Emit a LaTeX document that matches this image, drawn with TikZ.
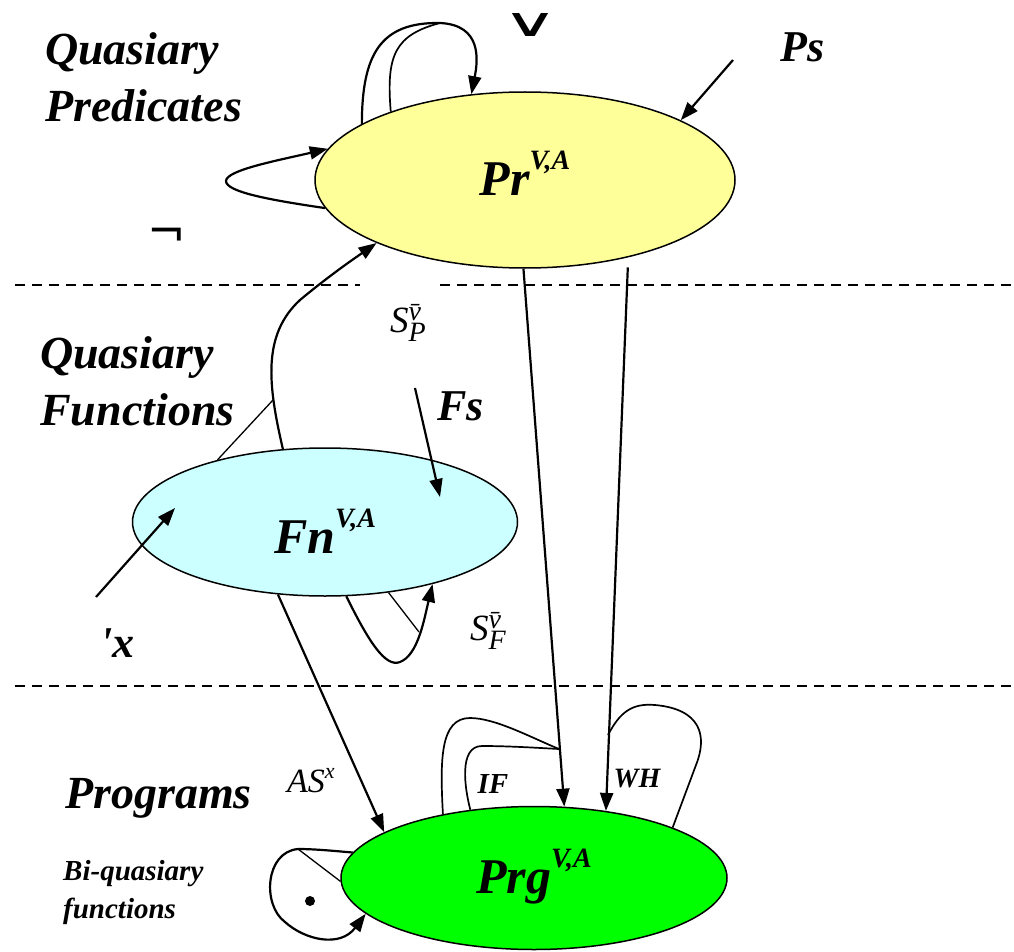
\documentclass[tikz,border=0pt]{standalone}
\usepackage{amsmath}
\usepackage{graphicx}
\usepackage{fontspec}
\setmainfont{Liberation Serif}
\newfontfamily\symbfont{DejaVu Sans}
\usetikzlibrary{arrows.meta,shapes.geometric}
\definecolor{predyellow}{HTML}{FFFF99}
\definecolor{funcyan}{HTML}{CCFFFF}
\definecolor{proggreen}{HTML}{00FF00}
\newcommand{\vaidx}[1]{\raisebox{26pt}{\fontsize{28}{28}\selectfont #1}}
\newcommand{\substname}[1]{\textit{S}\rlap{\raisebox{12pt}{\fontsize{28}{28}\selectfont\itshape\=v}}\raisebox{-9pt}{\fontsize{28}{28}\selectfont\itshape #1}}
\begin{document}
\begin{tikzpicture}[x=1pt, y=-1pt,
            dombox/.style = {ellipse, draw, line width=1.5pt, inner sep=0pt},
            bigtxt/.style = {font=\fontsize{50}{50}\selectfont\bfseries\itshape, inner sep=0pt},
            layertxt/.style = {font=\fontsize{46}{57}\selectfont\bfseries\itshape, align=left, inner sep=0pt, anchor=base west},
            notetxt/.style = {font=\fontsize{29}{38}\selectfont\bfseries\itshape, align=left, inner sep=0pt, anchor=base west},
            optxt/.style = {font=\fontsize{29}{29}\selectfont\bfseries\itshape, inner sep=0pt},
            substxt/.style = {font=\fontsize{37}{37}\selectfont, inner sep=0pt, anchor=base west},
            arrline/.style = {line width=2.2pt, -{Triangle[length=18pt,width=13pt]}},
            loopline/.style = {line width=1.7pt},
            thinline/.style = {line width=1.3pt},
            levelsep/.style = {line width=1.4pt, dash pattern=on 10pt off 7pt}
        ]
            \useasboundingbox (0,0) rectangle (1014,952);
            \draw[levelsep] (15,285) -- (360,285);
            \draw[levelsep] (440,285) -- (1014,285);
            \draw[levelsep] (15,686) -- (1014,686);

            \node[dombox, fill=predyellow, minimum width=420pt, minimum height=176pt] (pr) at (525,180) {};
            \node[dombox, fill=funcyan, minimum width=385pt, minimum height=148pt] (fn) at (325,522) {};
            \node[dombox, fill=proggreen, minimum width=386pt, minimum height=143pt] (prg) at (534,878) {};
            \node[bigtxt] (prname) at ([yshift=7pt]pr.center) {Pr\vaidx{V,A}};
            \node[bigtxt] (fnname) at ([yshift=-9pt]fn.center) {Fn\vaidx{V,A}};
            \node[bigtxt] (prgname) at ([yshift=1pt]prg.center) {Prg\vaidx{V,A}};

            \node[layertxt] (qpred) at (45,122) {Quasiary\\Predicates};
            \node[layertxt] (qfunc) at (40,425) {Quasiary\\Functions};
            \node[layertxt] (progs) at (65,808) {Programs};
            \node[notetxt] (biquas) at (63,918) {Bi-quasiary\\functions};

            \node[font=\symbfont\fontsize{70}{70}\selectfont, inner sep=0pt] (orsym) at (530,25) {\resizebox{56pt}{23pt}{∨}};
            \node[font=\symbfont\fontsize{46}{46}\selectfont, inner sep=0pt] (negsym) at (167,238) {¬};
            \node[layertxt, font=\fontsize{44}{44}\selectfont\bfseries\itshape] (ps) at (780,62) {Ps};
            \node[layertxt, font=\fontsize{44}{44}\selectfont\bfseries\itshape] (fs) at (437,420) {Fs};
            \node[layertxt, font=\fontsize{44}{44}\selectfont\bfseries\itshape] (xname) at (100,657) {\textquotesingle x};
            \node[substxt] (spname) at (390,332) {\substname{P}};
            \node[substxt] (sfname) at (470,640) {\substname{F}};
            \node[substxt, font=\fontsize{34}{34}\selectfont] (asname) at (287,792) {\textit{AS}\raisebox{14pt}{\fontsize{22}{22}\selectfont\itshape x}};
            \node[optxt] (ifname) at (493,784) {IF};
            \node[optxt, font=\fontsize{28}{28}\selectfont\bfseries\itshape] (whname) at (637,779) {WH};

            \coordinate (orjoin) at (440,23);
            \draw[arrline] (pr.161) .. controls (362,55) and (380,22) .. (orjoin) .. controls (482,25) and (478,60) .. (pr.122);
            \draw[loopline] (pr.153) .. controls (386,55) and (395,35) .. (orjoin);
            \draw[arrline] (pr.188) .. controls (270,200) and (226,192) .. (226,181) .. controls (226,170) and (280,160) .. (pr.171);
            \coordinate (psfrom) at (733,60);
            \draw[arrline] (psfrom) -- (pr.21);

            \coordinate (spjoin) at (273,400);
            \draw[arrline] (fn.120) .. controls (268,385) and (262,335) .. (300,300) .. controls (330,275) and (355,258) .. (pr.203);
            \draw[thinline] (spjoin) -- (fn.150);
            \coordinate (fsfrom) at (415,388);
            \coordinate (fsto) at (440,497);
            \draw[arrline] (fsfrom) -- (fsto);
            \coordinate (xfrom) at (96,597);
            \coordinate (xto) at (175,508);
            \draw[arrline] (xfrom) -- (xto);
            \coordinate (sfjoin) at (419,632);
            \draw[arrline] (fn.-74) .. controls (368,640) and (385,668) .. (400,662) .. controls (418,655) and (424,620) .. (fn.-30);
            \draw[thinline] (fn.-48) -- (sfjoin);

            \draw[arrline] (fn.-123) -- (prg.163);
            \draw[arrline] (pr.-91) -- (prg.67);
            \draw[arrline] ([yshift=-10pt]pr.-37) -- (prg.43);

            \coordinate (ifjoin) at (559,749);
            \coordinate (whjoin) at (608,735);
            \draw[loopline] (prg.145) .. controls (440,760) and (440,718) .. (470,718) .. controls (495,718) and (530,737) .. (ifjoin);
            \draw[loopline] (prg.133) .. controls (465,790) and (458,746) .. (482,746) .. controls (510,746) and (540,748) .. (ifjoin);
            \draw[loopline] (whjoin) .. controls (620,712) and (632,703) .. (655,705) .. controls (700,709) and (708,735) .. (696,765) -- (prg.20);

            \coordinate (pljoin) at (298,849);
            \draw[arrline] (prg.172) .. controls (335,851) and (315,849) .. (pljoin) .. controls (265,852) and (262,905) .. (285,922) .. controls (305,940) and (340,948) .. (prg.192);
            \draw[thinline] (pljoin) -- (prg.181);
            \node[circle, fill, inner sep=0pt, minimum size=10pt] (dot) at (310,901) {};
        \end{tikzpicture}
\end{document}
